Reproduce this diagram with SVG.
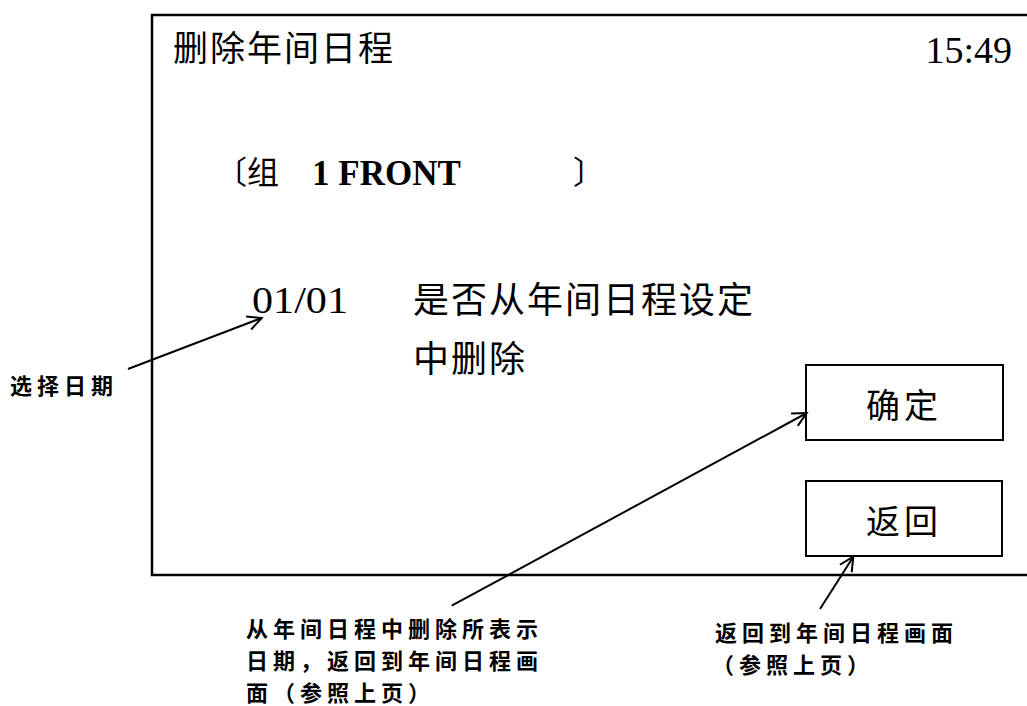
<svg xmlns="http://www.w3.org/2000/svg" width="1027" height="706" viewBox="0 0 1027 706">
<defs>
<style>
.cjk{font-family:"Noto Sans CJK SC","Noto Sans",sans-serif;fill:#000}
.ser{font-family:"Liberation Serif","Times New Roman",serif;fill:#000}
.lbl{font-family:"Noto Sans CJK SC","Noto Sans",sans-serif;font-weight:bold;font-size:22px;letter-spacing:5px;fill:#000}
.ln{stroke:#000;stroke-width:2;fill:none}
.box{stroke:#000;stroke-width:2;fill:#fff}
</style>
<marker id="arr" markerUnits="userSpaceOnUse" markerWidth="20" markerHeight="20" refX="15" refY="8" orient="auto">
<path d="M1,1 L15,8 L1,15" fill="none" stroke="#000" stroke-width="2"/>
</marker>
</defs>
<rect width="1027" height="706" fill="#fff"/>
<g id="screen">
<path d="M1027,15 H152 V575 H1027" fill="none" stroke="#000" stroke-width="2.5"/>
<text class="cjk" x="173" y="61" font-size="35" letter-spacing="2">删除年间日程</text>
<text class="ser" x="1012" y="63" font-size="38" text-anchor="end">15:49</text>
<text class="cjk" x="215" y="184" font-size="32">〔组</text>
<text class="ser" x="312" y="185" font-size="35" font-weight="bold">1 FRONT</text>
<text class="cjk" x="573" y="184" font-size="32">〕</text>
<text class="ser" x="252" y="313" font-size="38" textLength="96" lengthAdjust="spacingAndGlyphs">01/01</text>
<text class="cjk" x="413" y="313" font-size="36" letter-spacing="2">是否从年间日程设定</text>
<text class="cjk" x="413" y="372" font-size="36" letter-spacing="2">中删除</text>
</g>
<g id="btn-ok">
<rect class="box" x="806" y="365" width="197" height="75"/>
<text class="cjk" x="904" y="418" font-size="34" letter-spacing="4" text-anchor="middle">确定</text>
</g>
<g id="btn-back">
<rect class="box" x="806" y="481" width="196" height="75"/>
<text class="cjk" x="904" y="534" font-size="34" letter-spacing="4" text-anchor="middle">返回</text>
</g>
<g id="note-date">
<text class="lbl" x="10" y="394" font-size="22" letter-spacing="3.5">选择日期</text>
</g>
<g id="note-ok">
<text class="lbl" x="246" y="637">从年间日程中删除所表示</text>
<text class="lbl" x="246" y="669">日期，返回到年间日程画</text>
<text class="lbl" x="246" y="701">面（参照上页）</text>
</g>
<g id="note-back">
<text class="lbl" x="715" y="641" letter-spacing="4.3">返回到年间日程画面</text>
<text class="lbl" x="712" y="673" letter-spacing="4.3">（参照上页）</text>
</g>
<g id="connectors">
<line class="ln" x1="128" y1="369" x2="261.7" y2="318" marker-end="url(#arr)"/>
<line class="ln" x1="451.7" y1="605.7" x2="806.7" y2="413" marker-end="url(#arr)"/>
<line class="ln" x1="820" y1="609" x2="853.3" y2="556.7" marker-end="url(#arr)"/>
</g>
</svg>
